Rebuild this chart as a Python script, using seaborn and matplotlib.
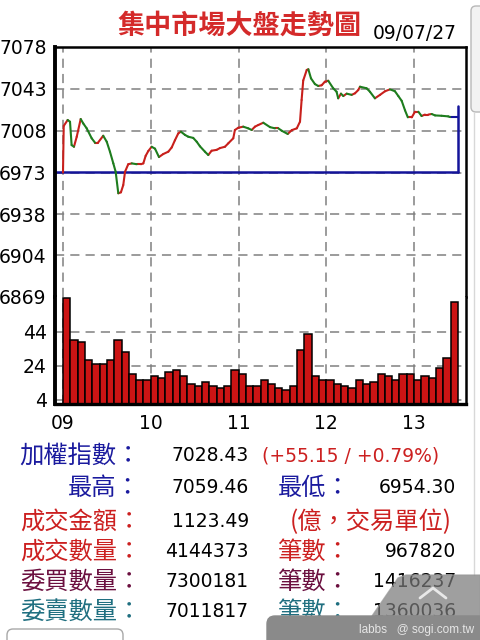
import numpy as np
import pandas as pd
import matplotlib
matplotlib.use("Agg")
import matplotlib.pyplot as plt
import seaborn as sns
from matplotlib.patches import FancyBboxPatch, Polygon

# ---------------- data ----------------
price_minutes = [0, 0.5, 3.2, 4.8, 5.9, 7.5, 9.4, 12.1, 13.9, 16.2, 19.6, 21.9, 23.9, 27.5, 29.9,
                 32.1, 34.4, 36.0, 37.8, 39.6, 41.2, 42.4, 44.6, 47.0, 50.4, 53.3, 54.9, 56.5, 58.3,
                 60.6, 62.9, 65.6, 68.5, 72.0, 74.3, 76.5, 78.8, 80.6, 83.4, 85.6, 89.0, 91.4, 93.6,
                 97.0, 99.3, 101.6, 105.0, 107.3, 110.7, 113.0, 116.4, 117.5, 119.8, 123.2, 126.6,
                 129.0, 131.2, 133.5, 136.9, 141.5, 144.9, 147.2, 149.5, 153.6, 156.4, 159.8, 162.0,
                 163.1, 164.2, 166.6, 167.7, 169.5, 172.2, 174.5, 176.8, 179.0, 181.3, 184.7, 187.0,
                 188.1, 190.0, 191.6, 193.9, 197.3, 199.6, 201.8, 203.0, 207.5, 209.8, 213.2, 216.7,
                 220.1, 223.5, 226.9, 229.2, 231.5, 233.8, 235.7, 238.4, 240.6, 242.9, 245.1, 247.4,
                 249.7, 252.0, 254.3, 258.8, 263.3, 264.5]
price_values = [6973, 7012, 7017, 7015.5, 6996, 6994.6, 7003, 7017.8, 7014, 7010, 7001.7, 6998, 6998,
                7003.8, 6998.8, 6990.5, 6980.7, 6973.7, 6955.7, 6956.5, 6962.6, 6973.7, 6980, 6980.7,
                6980, 6980, 6980.7, 6987, 6991, 6994.6, 6993, 6986, 6988.5, 6990.5, 6994, 7000,
                7005.8, 7007.2, 7004.5, 7003, 7002, 6998.8, 6995, 6990.5, 6987.7, 6991.3, 6992,
                6993.5, 6994.6, 6997.5, 7001.7, 7008.6, 7010.5, 7011.4, 7010, 7008.6, 7011.4, 7012.8,
                7014.7, 7011, 7010, 7010, 7008, 7005.3, 7008.5, 7010, 7015.6, 7033.7, 7050, 7058.8,
                7059.4, 7051.8, 7047, 7045.4, 7046, 7049, 7049.8, 7043.5, 7040.6, 7035.1, 7039, 7037,
                7039, 7038, 7039.3, 7042, 7044.8, 7043.5, 7040.6, 7035.1, 7038, 7041, 7042.6, 7041,
                7037, 7033, 7025, 7019.2, 7019.2, 7023.9, 7023.9, 7020.3, 7021.5, 7021.5, 7022,
                7020.8, 7020.5, 7020, 7019.5]
prev_close = 6973.28
close_price = 7028.43
session_end_minutes = 270

volume_values = [64.2, 39.3, 38.1, 27.4, 25.2, 25.2, 27.4, 39.3, 32.2, 19.1,
                 15.8, 15.8, 18.1, 16.9, 20.5, 21.5, 18.1, 13.4, 12.2, 14.6,
                 12.2, 11.1, 12.2, 21.5, 18.9, 12.1, 12.1, 15.8, 13.4, 11.1,
                 9.9, 12.2, 33.4, 42.8, 18.1, 15.8, 15.8, 13.4, 12.2, 11.1,
                 15.8, 13.4, 14.6, 19.3, 18.1, 15.8, 19.3, 19.3, 15.8, 18.1,
                 16.9, 22.8, 28.7, 61.6]
bar_minutes = 5

hour_ticks = [9, 10, 11, 12, 13]
hour_labels = ["09", "10", "11", "12", "13"]
price_ticks = [7078, 7043, 7008, 6973, 6938, 6904, 6869]
price_tick_labels = ["7078", "7043", "7008", "6973", "6938", "6904", "6869"]
volume_ticks = [4, 24, 44]
volume_tick_labels = ["4", "24", "44"]

title_text = "集中市場大盤走勢圖"
date_text = "09/07/27"
left_labels = ["加權指數：", "最高：", "成交金額：", "成交數量：", "委買數量：", "委賣數量："]
left_values = ["7028.43", "7059.46", "1123.49", "4144373", "7300181", "7011817"]
change_text = "(+55.15 / +0.79%)"
unit_text = "(億，交易單位)"
right_labels = ["最低：", "筆數：", "筆數：", "筆數："]
right_values = ["6954.30", "967820", "1416237", "1360036"]
watermark_text = "labbs   @ sogi.com.tw"

# ---------------- style ----------------
sns.set_theme(style="white")
plt.rcParams["font.family"] = ["DejaVu Sans", "Noto Sans CJK TC"]
CJK = ["Noto Sans CJK TC", "DejaVu Sans"]

RED = "#c8201c"
GREEN = "#1e7d1e"
BLUE = "#14149a"
BAR = "#cc1414"
GRID = "#808080"
W, H = 480, 640

def rect(x0, y0, x1, y1):
    return [x0 / W, 1 - y1 / H, (x1 - x0) / W, (y1 - y0) / H]

fig = plt.figure(figsize=(4.8, 6.4), dpi=100)
fig.patch.set_facecolor("white")
axp = fig.add_axes(rect(55, 47, 466, 297))
axv = fig.add_axes(rect(55, 297, 466, 404))

xmin, xmax = 8.909, 13.591
dash = (0, (6, 4))

# ---------------- price panel ----------------
t = 9 + np.array(price_minutes) / 60
p = np.array(price_values)
rows = []
for i in range(len(t) - 1):
    d = "up" if p[i + 1] >= p[i] else "down"
    rows.append((i, t[i], p[i], d))
    rows.append((i, t[i + 1], p[i + 1], d))
seg = pd.DataFrame(rows, columns=["seg", "t", "p", "dir"])

for h in hour_ticks:
    axp.axvline(h, color=GRID, lw=1.1, ls=dash, zorder=0.5)
    axv.axvline(h, color=GRID, lw=1.1, ls=dash, zorder=0.5)
for v in price_ticks[1:-1]:
    axp.axhline(v, color=GRID, lw=1.1, ls=dash, zorder=0.5)
for v in volume_ticks:
    axv.axhline(v, color=GRID, lw=1.1, ls=dash, zorder=0.5)

t_end = 9 + session_end_minutes / 60
axp.plot([xmin, t_end], [prev_close, prev_close], color=BLUE, lw=1.8, zorder=2)
axp.plot([t_end, t_end], [prev_close, close_price], color=BLUE, lw=1.8, zorder=2)
axp.plot([t[-1], t_end], [p[-1], p[-1]], color=BLUE, lw=1.5, zorder=2)

sns.lineplot(data=seg, x="t", y="p", units="seg", estimator=None, hue="dir",
             palette={"up": RED, "down": GREEN}, legend=False, linewidth=1.5,
             sort=False, ax=axp, zorder=3)

axp.set_xlim(xmin, xmax)
axp.set_ylim(price_ticks[-1], price_ticks[0])
axp.set_yticks(price_ticks)
axp.set_yticklabels(price_tick_labels)
axp.set_xticks([])
axp.set_xlabel("")
axp.set_ylabel("")

# ---------------- volume panel ----------------
bar_centers = 9 + (np.arange(len(volume_values)) + 0.5) * bar_minutes / 60
sns.barplot(x=bar_centers, y=volume_values, native_scale=True, orient="v", width=1.0,
            color=BAR, saturation=1, edgecolor="black", linewidth=1.1, ax=axv, zorder=2)
axv.set_xlim(xmin, xmax)
axv.set_ylim(1.5, 64.5)
axv.set_yticks(volume_ticks)
axv.set_yticklabels(volume_tick_labels)
axv.set_xticks(hour_ticks)
axv.set_xticklabels(hour_labels)
axv.set_xlabel("")
axv.set_ylabel("")

for ax in (axp, axv):
    ax.set_facecolor("white")
    ax.tick_params(axis="both", length=0, labelsize=13.5, colors="black", pad=6)
    for s in ax.spines.values():
        s.set_color("black")
    ax.spines["left"].set_linewidth(2.8)
    ax.spines["right"].set_linewidth(1.8)
axp.spines["top"].set_linewidth(1.8)
axp.spines["bottom"].set_visible(False)
axv.spines["top"].set_visible(False)
axv.spines["bottom"].set_linewidth(2.4)
axv.tick_params(axis="x", pad=7)

# ---------------- overlay: title & info ----------------
axo = fig.add_axes([0, 0, 1, 1], zorder=10)
axo.set_xlim(0, W)
axo.set_ylim(H, 0)
axo.axis("off")
axo.patch.set_visible(False)

axo.text(117, 26, title_text, color="#d42a2a", fontsize=19.5, fontweight="bold",
         family=CJK, ha="left", va="center")
axo.text(373, 39, date_text, color="black", fontsize=13.5, ha="left", va="baseline")

baselines = [461, 493, 527, 557, 587, 617]
left_colors = ["#1a1a9e", "#1a1a9e", "#cc2020", "#cc2020", "#6b0f3f", "#1f6f80"]
for i in range(6):
    axo.text(141, baselines[i] + 2, left_labels[i], color=left_colors[i], fontsize=17.5,
             family=CJK, ha="right", va="baseline")
    axo.text(249, baselines[i], left_values[i], color="black", fontsize=13.5,
             ha="right", va="baseline")

axo.text(262, baselines[0], change_text, color="#cc2020", fontsize=13.5, ha="left", va="baseline")
axo.text(290, baselines[2] + 2, unit_text, color="#cc2020", fontsize=17.5, family=CJK,
         ha="left", va="baseline")
right_rows = [1, 3, 4, 5]
for k, r in enumerate(right_rows):
    axo.text(278, baselines[r] + 2, right_labels[k], color=left_colors[r], fontsize=17.5,
             family=CJK, ha="left", va="baseline")
    axo.text(456, baselines[r], right_values[k], color="black", fontsize=13.5,
             ha="right", va="baseline")

# screenshot chrome: scrollbar, bottom tabs, watermark
axo.add_patch(FancyBboxPatch((471, 6), 14, 106, boxstyle="round,pad=0,rounding_size=5",
                             fc="#f2f2f2", ec="#b8b8b8", lw=1, zorder=1))
axo.plot([473.5, 473.5], [112, 575], color="#d8d8d8", lw=1, zorder=1)
axo.add_patch(FancyBboxPatch((7, 629), 116, 20, boxstyle="round,pad=0,rounding_size=6",
                             fc="white", ec="#a8a8a8", lw=1, zorder=1))
axo.add_patch(Polygon([(372, 616), (398, 578), (406, 575), (480, 575), (480, 616)],
                      closed=True, fc="#7a7a7a", ec="#9a9a9a", alpha=0.72, lw=1, zorder=5))
axo.plot([420, 433, 446], [598, 588, 598], color="#e8e8e8", lw=2, zorder=6)
axo.add_patch(FancyBboxPatch((267, 616), 230, 40, boxstyle="round,pad=0,rounding_size=8",
                             fc="#8a8a8a", ec="#8a8a8a", lw=1, zorder=5))
axo.text(474, 630, watermark_text, color="#e6e6e6", fontsize=8.5, family="Liberation Sans",
         ha="right", va="center", zorder=7)

fig.savefig("out.png", dpi=100, facecolor="white")
